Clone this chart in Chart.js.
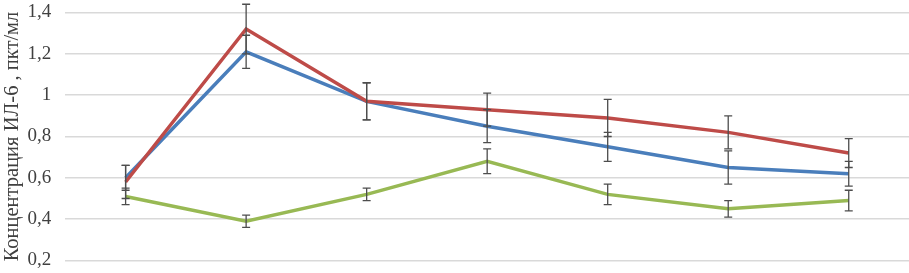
<!DOCTYPE html>
<html lang="ru">
<head>
<meta charset="utf-8">
<script src="https://cdn.jsdelivr.net/npm/chart.js@4/dist/chart.umd.min.js"></script>
<style>
  html, body { margin: 0; padding: 0; background: #fff; }
  #wrap { position: relative; width: 909px; height: 273px; }
</style>
</head>
<body>
<div id="wrap"><canvas id="chart"></canvas></div>
<script>
// точки наблюдения (подписи оси X на рисунке обрезаны)
const categories = ['1', '2', '3', '4', '5', '6', '7']

const serieAzul     = [0.60, 1.21, 0.97, 0.85, 0.75, 0.65, 0.62]
const serieVermelha = [0.58, 1.32, 0.97, 0.93, 0.89, 0.82, 0.72]
const serieVerde    = [0.51, 0.39, 0.52, 0.68, 0.52, 0.45, 0.49]

const erroAzul     = [0.06, 0.08, 0.09, 0.08, 0.07, 0.08, 0.06]
const erroVermelha = [0.08, 0.12, 0.09, 0.08, 0.09, 0.08, 0.07]
const erroVerde    = [0.04, 0.03, 0.03, 0.06, 0.05, 0.04, 0.05]

const yTicks = [0.2, 0.4, 0.6, 0.8, 1, 1.2, 1.4]

const FONTE = "'Liberation Serif', 'Times New Roman', serif"

const errorBars = {
  id: 'errorBars',
  afterDatasetsDraw(chart) {
    const { ctx, scales: { x, y } } = chart
    ctx.save()
    ctx.strokeStyle = '#4d4d4d'
    ctx.lineWidth = 1.3
    chart.data.datasets.forEach(ds => {
      ds.data.forEach((v, i) => {
        const e = ds.erros[i]
        const px = x.getPixelForValue(i)
        const top = y.getPixelForValue(v + e)
        const bot = y.getPixelForValue(v - e)
        ctx.beginPath()
        ctx.moveTo(px, top); ctx.lineTo(px, bot)
        ctx.moveTo(px - 4, top); ctx.lineTo(px + 4, top)
        ctx.moveTo(px - 4, bot); ctx.lineTo(px + 4, bot)
        ctx.stroke()
      })
    })
    ctx.restore()
  }
}

const linha = (data, erros, cor, order) => ({
  data, erros, order,
  borderColor: cor,
  backgroundColor: cor,
  borderWidth: 3.5,
  pointRadius: 0,
  tension: 0,
  fill: false,
})

new Chart(document.getElementById('chart'), {
  type: 'line',
  data: {
    labels: categories,
    datasets: [
      linha(serieAzul, erroAzul, '#4A7EBB', 2),
      linha(serieVermelha, erroVermelha, '#BE4B48', 1),
      linha(serieVerde, erroVerde, '#98B954', 0),
    ],
  },
  options: {
    responsive: true,
    maintainAspectRatio: false,
    animation: false,
    layout: { padding: { top: -2, bottom: -1 } },
    plugins: { legend: { display: false }, tooltip: { enabled: false } },
    scales: {
      x: {
        display: false,
        offset: true,
        grid: { display: false },
      },
      y: {
        min: 0.2,
        max: 1.4,
        afterBuildTicks: s => { s.ticks = yTicks.map(value => ({ value })) },
        border: { display: false },
        grid: { color: '#d9d9d9', lineWidth: 1.5, drawTicks: true, tickLength: 11, tickColor: 'transparent' },
        ticks: {
          padding: 3,
          color: '#404040',
          font: { family: FONTE, size: 19, lineHeight: 1 },
          callback: v => String(v).replace('.', ','),
        },
        title: {
          display: true,
          text: 'Концентрация ИЛ-6 , пкт/мл',
          color: '#404040',
          font: { family: FONTE, size: 20.5 },
          padding: { top: 0, bottom: 0 },
        },
      },
    },
  },
  plugins: [errorBars],
})
</script>
</body>
</html>
